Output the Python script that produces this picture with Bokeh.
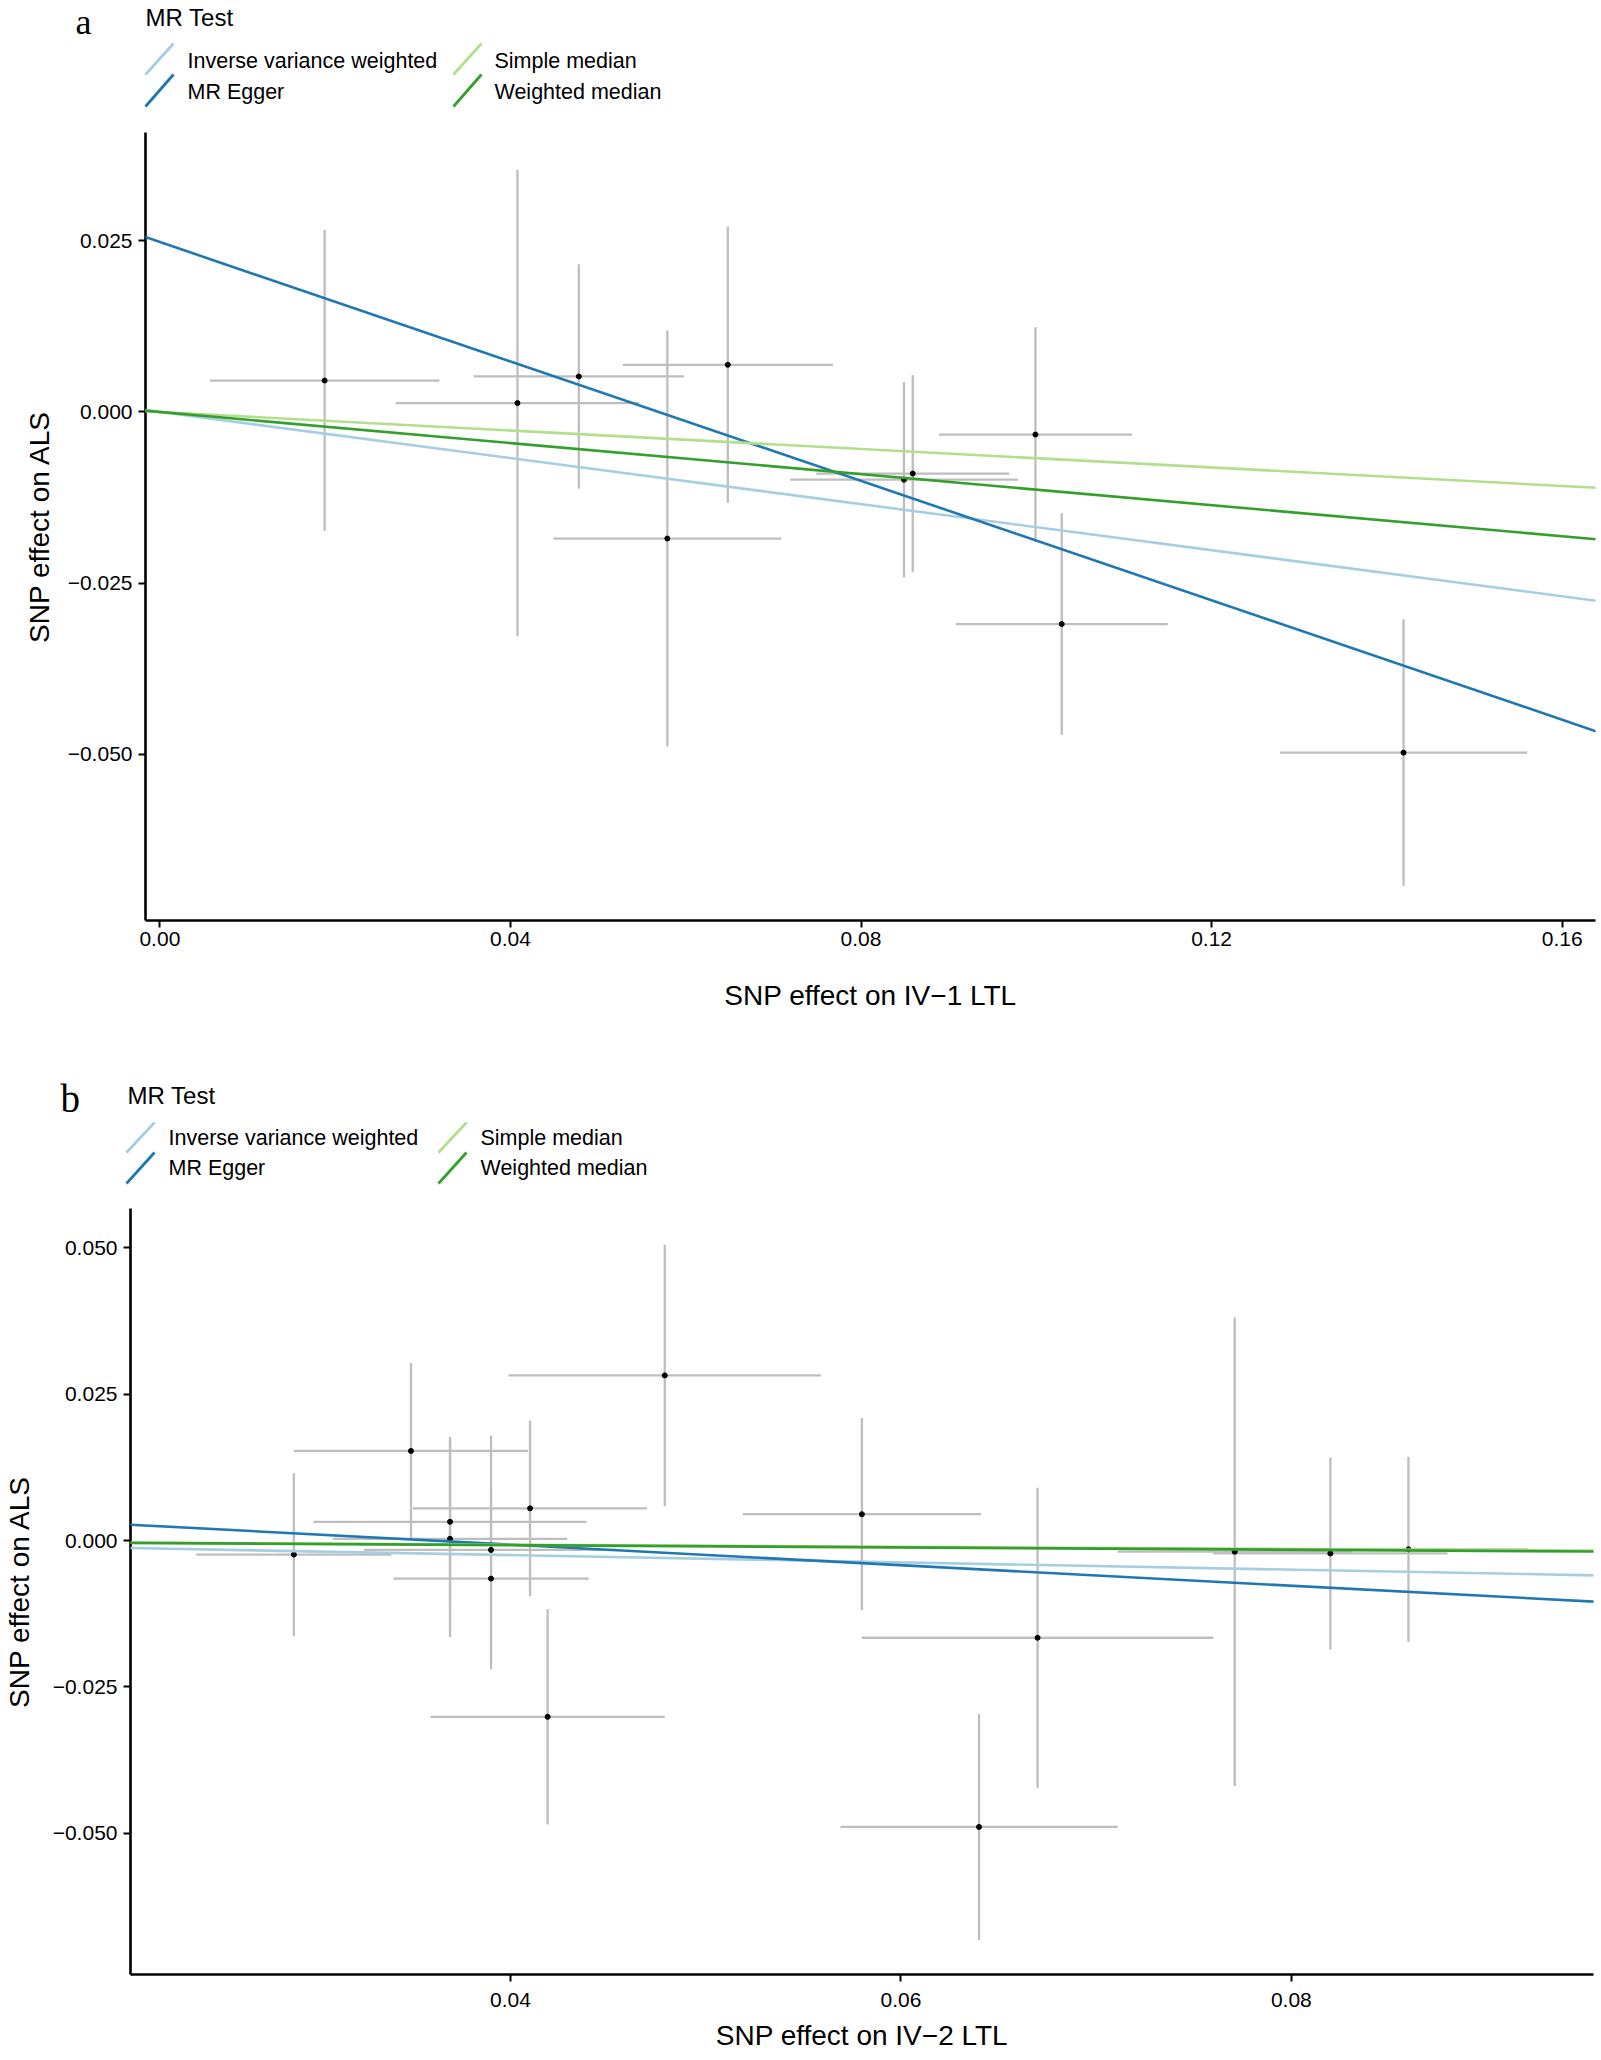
from bokeh.plotting import figure
from bokeh.models import (Range1d, FixedTicker, CustomJSTickFormatter, Slope,
                          ColumnDataSource)
from bokeh.embed import file_html
from bokeh.resources import INLINE
from bokeh.core.properties import value

# ---------------- data ----------------
methods = ["Inverse variance weighted", "MR Egger", "Simple median", "Weighted median"]
method_colors = ["#A6CEE3", "#1F78B4", "#B2DF8A", "#33A02C"]

# panel a : IV-1 LTL
a_x = [0.0188, 0.0408, 0.0478, 0.0579, 0.0648, 0.0849, 0.0859, 0.0999, 0.1029, 0.1419]
a_y = [0.0046, 0.0013, 0.0052, -0.0185, 0.0069, -0.0099, -0.0090, -0.0033, -0.0310, -0.0498]
a_xerr = [0.0131, 0.0139, 0.0120, 0.0130, 0.0120, 0.0130, 0.0110, 0.0110, 0.0121, 0.0141]
a_yerr = [0.0220, 0.0341, 0.0164, 0.0304, 0.0202, 0.0143, 0.0144, 0.0157, 0.0162, 0.0195]
a_slopes = [-0.1684, -0.4365, -0.0676, -0.1135]
a_intercepts = [0.0, 0.02485, 0.0, 0.0]

# panel b : IV-2 LTL
b_x = [0.0289, 0.0349, 0.0369, 0.0369, 0.0390, 0.0390, 0.0410, 0.0419, 0.0479, 0.0580,
       0.0670, 0.0640, 0.0771, 0.0820, 0.0860]
b_y = [-0.0024, 0.0153, 0.0032, 0.0003, -0.0016, -0.0065, 0.0055, -0.0301, 0.0282, 0.0045,
       -0.0166, -0.0489, -0.0019, -0.0022, -0.0015]
b_xerr = [0.0050, 0.0060, 0.0070, 0.0060, 0.0065, 0.0050, 0.0060, 0.0060, 0.0080, 0.0061,
          0.0090, 0.0071, 0.0060, 0.0060, 0.0061]
b_yerr = [0.0139, 0.0150, 0.0145, 0.0168, 0.0195, 0.0155, 0.0150, 0.0184, 0.0223, 0.0164,
          0.0256, 0.0193, 0.0400, 0.0164, 0.0158]
b_slopes = [-0.0622, -0.1752, -0.0180, -0.0196]
b_intercepts = [0.0, 0.0063, 0.0, 0.0]

a_xticks = [0.0, 0.04, 0.08, 0.12, 0.16]
a_yticks = [-0.05, -0.025, 0.0, 0.025]
b_xticks = [0.04, 0.06, 0.08]
b_yticks = [-0.05, -0.025, 0.0, 0.025, 0.05]

a_xlabel = "SNP effect on IV\u22121 LTL"
b_xlabel = "SNP effect on IV\u22122 LTL"
ylabel = "SNP effect on ALS"
legend_title = "MR Test"

# ---------------- layout / style ----------------
W = 1600
SANS = "Liberation Sans"
SERIF = "Liberation Serif"
GREY = "#BEBEBE"


def legend_fig(h, tag, tag_pos, tag_size, title_pos, key_x, text_x, key_rows, text_base):
    p = figure(width=W, height=h, x_range=Range1d(0, W), y_range=Range1d(h, 0),
               output_backend="svg", toolbar_location=None,
               x_axis_location=None, y_axis_location=None,
               min_border=0, outline_line_color=None)
    p.xgrid.visible = False
    p.ygrid.visible = False
    p.text(x=[tag_pos[0]], y=[tag_pos[1]], text=[tag], text_font=value(SERIF),
           text_font_size=tag_size, text_baseline="alphabetic", text_color="black")
    p.text(x=[title_pos[0]], y=[title_pos[1]], text=[legend_title], text_font=value(SANS),
           text_font_size="24px", text_baseline="alphabetic", text_color="black")
    for i, (m, c) in enumerate(zip(methods, method_colors)):
        col, row = i // 2, i % 2
        kx = key_x[col]
        y0, y1 = key_rows[row]
        p.segment(x0=[kx], y0=[y0], x1=[kx + 28], y1=[y1], line_color=c, line_width=2.8)
        p.text(x=[text_x[col]], y=[text_base[row]], text=[m], text_font=value(SANS),
               text_font_size="21.5px", text_baseline="alphabetic", text_color="black")
    return p


def main_fig(h, xr, yr, borders, xs, ys, xerr, yerr, slopes, intercepts,
             xticks, yticks, xdec, ydec, xlabel, xstand, ystand, xlab_stand, ylab_stand):
    p = figure(width=W, height=h, x_range=Range1d(*xr), y_range=Range1d(*yr),
               output_backend="svg", toolbar_location=None,
               min_border_top=borders[0], min_border_bottom=borders[1],
               min_border_left=borders[2], min_border_right=borders[3],
               outline_line_color=None, background_fill_color="white")
    p.xgrid.visible = False
    p.ygrid.visible = False
    src = ColumnDataSource(dict(
        x=xs, y=ys,
        xl=[x - e for x, e in zip(xs, xerr)], xh=[x + e for x, e in zip(xs, xerr)],
        yl=[y - e for y, e in zip(ys, yerr)], yh=[y + e for y, e in zip(ys, yerr)]))
    p.segment(x0="x", y0="yl", x1="x", y1="yh", source=src, line_color=GREY, line_width=2.3)
    p.segment(x0="xl", y0="y", x1="xh", y1="y", source=src, line_color=GREY, line_width=2.3)
    p.scatter(x="x", y="y", source=src, size=5, fill_color="black", line_color="black")
    for s, b, c in zip(slopes, intercepts, method_colors):
        p.add_layout(Slope(gradient=s, y_intercept=b, line_color=c, line_width=2.6))

    p.xaxis.ticker = FixedTicker(ticks=xticks)
    p.yaxis.ticker = FixedTicker(ticks=yticks)
    p.xaxis.formatter = CustomJSTickFormatter(
        code="return tick.toFixed(%d).replace('-', '\u2212');" % xdec)
    p.yaxis.formatter = CustomJSTickFormatter(
        code="return tick.toFixed(%d).replace('-', '\u2212');" % ydec)
    for ax in (p.xaxis, p.yaxis):
        ax.axis_line_color = "black"
        ax.axis_line_width = 2.6
        ax.major_tick_line_color = "black"
        ax.major_tick_line_width = 2
        ax.major_tick_out = 7
        ax.major_tick_in = 0
        ax.minor_tick_out = 0
        ax.minor_tick_in = 0
        ax.major_label_text_font = SANS
        ax.major_label_text_font_size = "21px"
        ax.major_label_text_color = "black"
        ax.axis_label_text_font = SANS
        ax.axis_label_text_font_size = "28px"
        ax.axis_label_text_font_style = "normal"
        ax.axis_label_text_color = "black"
    p.xaxis.major_label_standoff = xstand
    p.yaxis.major_label_standoff = ystand
    p.yaxis.axis_label = ylabel
    p.yaxis.axis_label_standoff = ylab_stand
    p.xaxis.axis_label = xlabel
    p.xaxis.axis_label_standoff = xlab_stand
    return p


# panel a (page rows 0-1030)
leg_a = legend_fig(122, "a", (75, 21), "36px", (145, 17), (145, 453), (187, 494),
                   [(74, 43), (106, 74)], [60, 91])

a_xr = (-0.00164, 0.1638)
a_yr = (-0.07434, 0.04086)
p_a = main_fig(908, a_xr, a_yr, (10, 110, 145, 5), a_x, a_y, a_xerr, a_yerr,
               a_slopes, a_intercepts, a_xticks, a_yticks, 2, 3, a_xlabel,
               4, 6, 31, 10)

# panel b (page rows 1030-2060)
leg_b = legend_fig(166, "b", (60, 68), "39px", (127, 65), (126, 438), (168, 480),
                   [(122, 92), (153, 122)], [107, 137])

b_xr = (0.02053, 0.09548)
b_yr = (-0.0741, 0.0567)
p_b = main_fig(864, b_xr, b_yr, (12, 86, 126, 7), b_x, b_y, b_xerr, b_yerr,
               b_slopes, b_intercepts, b_xticks, b_yticks, 2, 3, b_xlabel,
               11, 6, 10, 15)

with open("out.html", "w", encoding="utf-8") as f:
    f.write(file_html([leg_a, p_a, leg_b, p_b], INLINE))
